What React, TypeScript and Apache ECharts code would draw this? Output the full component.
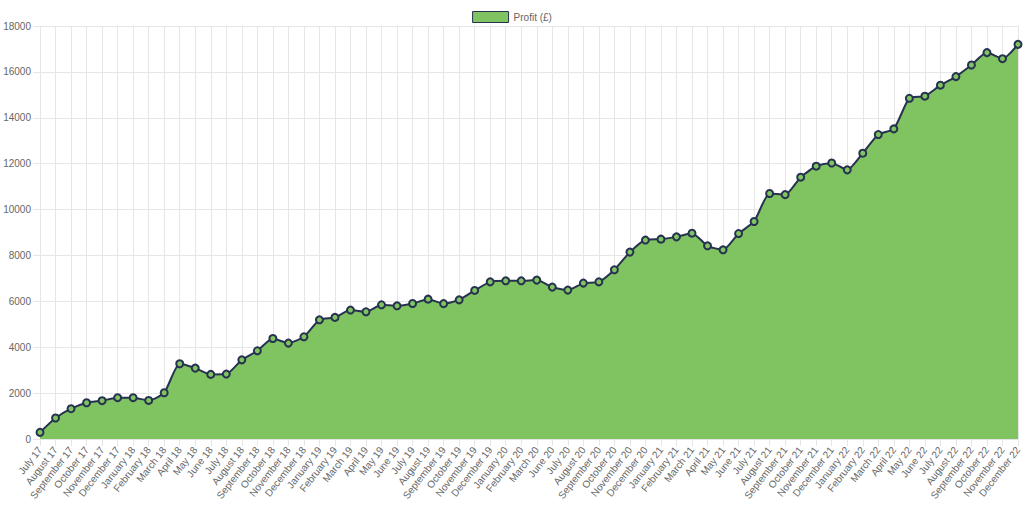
import React, { useEffect, useRef } from "react";
import * as echarts from "echarts";

const months: string[] = [
  "July 17", "August 17", "September 17", "October 17", "November 17", "December 17",
  "January 18", "February 18", "March 18", "April 18", "May 18", "June 18",
  "July 18", "August 18", "September 18", "October 18", "November 18", "December 18",
  "January 19", "February 19", "March 19", "April 19", "May 19", "June 19",
  "July 19", "August 19", "September 19", "October 19", "November 19", "December 19",
  "January 20", "February 20", "March 20", "June 20",
  "July 20", "August 20", "September 20", "October 20", "November 20", "December 20",
  "January 21", "February 21", "March 21", "April 21", "May 21", "June 21",
  "July 21", "August 21", "September 21", "October 21", "November 21", "December 21",
  "January 22", "February 22", "March 22", "April 22", "May 22", "June 22",
  "July 22", "August 22", "September 22", "October 22", "November 22", "December 22",
];

const profit: number[] = [
  290, 915, 1320, 1580, 1670, 1800,
  1800, 1680, 2015, 3280, 3090, 2815,
  2830, 3450, 3845, 4380, 4180, 4455,
  5195, 5300, 5620, 5545, 5850, 5805,
  5905, 6095, 5900, 6065, 6475, 6850,
  6895, 6895, 6925, 6620,
  6490, 6795, 6850, 7375, 8145, 8670,
  8710, 8810, 8970, 8420, 8245, 8955,
  9480, 10700, 10650, 11410, 11890, 12030,
  11730, 12455, 13270, 13515, 14850, 14940,
  15420, 15795, 16300, 16840, 16575, 17200,
];

const seriesName = "Profit (£)";
const yTicks = { min: 0, max: 18000, interval: 2000 };

const FILL = "#80c462";
const LINE = "#26324f";
const GRID = "#e6e6e6";
const TEXT = "#666666";
const FONT = "'Liberation Sans', Arial, Helvetica, sans-serif";

export default function App() {
  const ref = useRef<HTMLDivElement>(null);
  useEffect(() => {
    if (!ref.current) return;
    const chart = echarts.init(ref.current, undefined, { renderer: "svg" });
    chart.setOption({
      animation: false,
      backgroundColor: "#ffffff",
      textStyle: { fontFamily: FONT },
      legend: {
        top: 6,
        left: "center",
        itemWidth: 36,
        itemHeight: 11,
        itemGap: 6,
        textStyle: { color: TEXT, fontSize: 10, fontFamily: FONT },
        data: [
          {
            name: seriesName,
            icon: "rect",
            itemStyle: { color: FILL, borderColor: LINE, borderWidth: 1 },
          },
        ],
      },
      grid: { left: 40, right: 6, top: 26, bottom: 73, containLabel: false },
      xAxis: {
        type: "category",
        data: months,
        boundaryGap: false,
        axisLine: { show: true, lineStyle: { color: GRID } },
        axisTick: { show: true, length: 7, interval: 0, lineStyle: { color: GRID } },
        splitLine: { show: true, interval: 0, lineStyle: { color: GRID } },
        axisLabel: {
          interval: 0,
          rotate: 52,
          margin: 9,
          color: TEXT,
          fontSize: 10,
          fontFamily: FONT,
        },
      },
      yAxis: {
        type: "value",
        min: yTicks.min,
        max: yTicks.max,
        interval: yTicks.interval,
        axisLine: { show: true, lineStyle: { color: GRID } },
        axisTick: { show: true, length: 7, lineStyle: { color: GRID } },
        splitLine: { show: true, lineStyle: { color: GRID } },
        axisLabel: {
          margin: 9,
          color: TEXT,
          fontSize: 10,
          fontFamily: FONT,
          formatter: (v: number) => String(v),
        },
      },
      series: [
        {
          name: seriesName,
          type: "line",
          data: profit,
          smooth: 0.2,
          symbol: "circle",
          symbolSize: 7,
          showSymbol: true,
          lineStyle: { color: LINE, width: 2 },
          itemStyle: { color: FILL, borderColor: LINE, borderWidth: 2 },
          areaStyle: { color: FILL, opacity: 1 },
        },
      ],
    });
    return () => chart.dispose();
  }, []);
  return <div ref={ref} style={{ width: 1024, height: 512, position: "absolute", left: 0, top: 0 }} />;
}
